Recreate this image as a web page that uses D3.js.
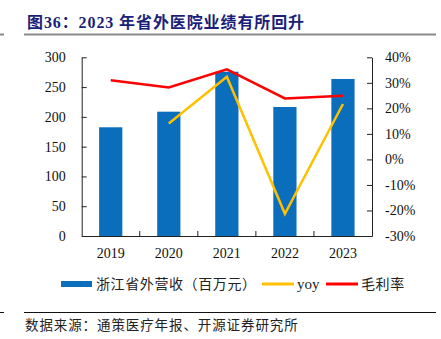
<!DOCTYPE html>
<html>
<head>
<meta charset="utf-8">
<script src="https://d3js.org/d3.v7.min.js"></script>
<style>
  body { margin: 0; background: #fff; }
</style>
</head>
<body>
<div id="chart"></div>
<script>
// data
const years = ["2019", "2020", "2021", "2022", "2023"];
const revenue = [182.5, 208.7, 275.8, 216.6, 263.6];   // 浙江省外营收（百万元）
const yoy = [null, 0.141, 0.324, -0.213, 0.217];
const margin_rate = [0.310, 0.282, 0.353, 0.239, 0.249]; // 毛利率
const leftTicks = [0, 50, 100, 150, 200, 250, 300];
const rightTicks = [-0.3, -0.2, -0.1, 0, 0.1, 0.2, 0.3, 0.4];

const width = 441, height = 339;
const margin = { top: 57.3, right: 69, bottom: 103, left: 81.7 };
const blue = "#0a6ebd", yellow = "#ffc000", red = "#ff0000";
const numFont = "'Liberation Serif', 'Times New Roman', serif";
const cjkFont = "'Noto Sans CJK SC', sans-serif";

const svg = d3.select("#chart").append("svg")
  .attr("width", width)
  .attr("height", height);

// title
svg.append("text")
  .attr("x", 27).attr("y", 28)
  .attr("fill", "#1b1f7a")
  .attr("font-family", numFont + ", " + cjkFont)
  .attr("font-weight", "bold")
  .attr("font-size", 16)
  .attr("letter-spacing", 0.9)
  .text("图36：2023 年省外医院业绩有所回升");
svg.append("line").attr("x1", 0).attr("x2", 4).attr("y1", 34.5).attr("y2", 34.5)
  .attr("stroke", "#8a8a8a").attr("stroke-width", 2);
svg.append("line").attr("x1", 24).attr("x2", 436).attr("y1", 34.5).attr("y2", 34.5)
  .attr("stroke", "#8a8a8a").attr("stroke-width", 2);

const x = d3.scaleBand()
  .domain(years)
  .range([margin.left, width - margin.right])
  .paddingInner(0.6)
  .paddingOuter(0.3);

const yL = d3.scaleLinear().domain([0, 300]).range([height - margin.bottom, margin.top]);
const yR = d3.scaleLinear().domain([-0.3, 0.4]).range([height - margin.bottom, margin.top]);

// bars
svg.append("g")
  .attr("fill", blue)
  .selectAll("rect")
  .data(revenue)
  .join("rect")
    .attr("x", (d, i) => x(years[i]))
    .attr("y", d => yL(d))
    .attr("width", x.bandwidth())
    .attr("height", d => yL(0) - yL(d));

// axes
const axisColor = "#222";
const gl = svg.append("g")
  .attr("transform", `translate(${margin.left},0)`)
  .call(d3.axisLeft(yL).tickValues(leftTicks).tickSize(-5).tickPadding(16).tickSizeOuter(0));
const gr = svg.append("g")
  .attr("transform", `translate(${width - margin.right},0)`)
  .call(d3.axisRight(yR).tickValues(rightTicks).tickSize(-5).tickPadding(13).tickSizeOuter(0)
    .tickFormat(d => Math.round(d * 100) + "%"));
const gb = svg.append("g")
  .attr("transform", `translate(0,${yL(0)})`)
  .call(d3.axisBottom(x).tickSize(0).tickPadding(12).tickSizeOuter(0));

[gl, gr, gb].forEach(g => {
  g.selectAll("path").attr("stroke", axisColor);
  g.selectAll("line").attr("stroke", axisColor);
  g.selectAll("text").attr("font-family", numFont).attr("font-size", 14).attr("fill", "#111");
});
gl.selectAll("text").attr("text-anchor", "end");
gr.selectAll("text").attr("text-anchor", "start");

// category boundary ticks on x axis (inward)
const step = x.step();
svg.append("g")
  .selectAll("line")
  .data(years.slice(1))
  .join("line")
    .attr("x1", d => x(d) - x.paddingInner() * step / 2)
    .attr("x2", d => x(d) - x.paddingInner() * step / 2)
    .attr("y1", yL(0))
    .attr("y2", yL(0) - 5)
    .attr("stroke", axisColor);

// lines
const line = d3.line()
  .defined(d => d.v !== null)
  .x(d => x(d.year) + x.bandwidth() / 2)
  .y(d => yR(d.v));

svg.append("path")
  .datum(years.map((year, i) => ({ year, v: yoy[i] })))
  .attr("fill", "none")
  .attr("stroke", yellow)
  .attr("stroke-width", 2.5)
  .attr("d", line);

svg.append("path")
  .datum(years.map((year, i) => ({ year, v: margin_rate[i] })))
  .attr("fill", "none")
  .attr("stroke", red)
  .attr("stroke-width", 2.5)
  .attr("d", line);

// legend
const lg = svg.append("g").attr("font-family", cjkFont).attr("font-size", 14).attr("fill", "#222");
lg.append("rect").attr("x", 61).attr("y", 281).attr("width", 31).attr("height", 6).attr("fill", blue);
lg.append("text").attr("x", 96).attr("y", 284).attr("dy", "0.35em")
  .attr("letter-spacing", 0.6).text("浙江省外营收（百万元）");
lg.append("line").attr("x1", 262).attr("x2", 294).attr("y1", 284).attr("y2", 284)
  .attr("stroke", yellow).attr("stroke-width", 3);
lg.append("text").attr("x", 297).attr("y", 284).attr("dy", "0.35em")
  .attr("font-family", numFont).attr("font-size", 15).text("yoy");
lg.append("line").attr("x1", 326).attr("x2", 358).attr("y1", 284).attr("y2", 284)
  .attr("stroke", red).attr("stroke-width", 3);
lg.append("text").attr("x", 361).attr("y", 284).attr("dy", "0.35em")
  .attr("letter-spacing", 0.6).text("毛利率");

// footer
svg.append("line").attr("x1", 0).attr("x2", 4).attr("y1", 312.5).attr("y2", 312.5)
  .attr("stroke", "#111").attr("stroke-width", 1);
svg.append("line").attr("x1", 24).attr("x2", 436).attr("y1", 312.5).attr("y2", 312.5)
  .attr("stroke", "#111").attr("stroke-width", 1);
svg.append("text")
  .attr("x", 25).attr("y", 325).attr("dy", "0.35em")
  .attr("font-family", cjkFont).attr("font-size", 13.5).attr("fill", "#222")
  .attr("letter-spacing", 0.9)
  .text("数据来源：通策医疗年报、开源证券研究所");
</script>
</body>
</html>
